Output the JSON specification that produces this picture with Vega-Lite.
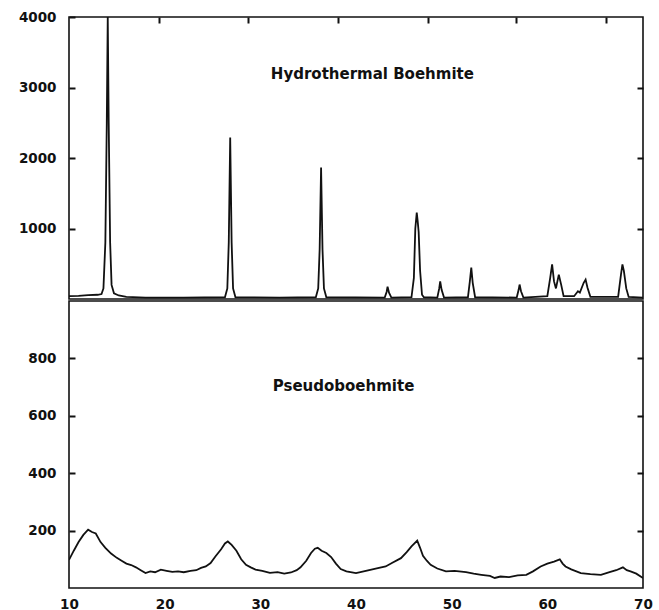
{
  "$schema": "https://vega.github.io/schema/vega-lite/v6.json",
  "background": "white",
  "padding": {"left": 8, "top": 9, "right": 17, "bottom": 0},
  "spacing": 0,
  "config": {
    "view": {"stroke": "#111", "strokeWidth": 1.6},
    "axis": {
      "domain": false,
      "grid": false,
      "title": null,
      "labelFont": "DejaVu Sans",
      "labelFontSize": 13.5,
      "labelFontWeight": "bold",
      "labelColor": "#111",
      "tickColor": "#111",
      "tickWidth": 2,
      "labelFlush": false,
      "labelOverlap": false,
      "format": "d"
    },
    "text": {"font": "DejaVu Sans", "fontSize": 15, "fontWeight": "bold", "color": "#111"}
  },
  "datasets": {
    "hydro": [
      {"two_theta": 10, "intensity": 40}, {"two_theta": 11, "intensity": 45}, {"two_theta": 12, "intensity": 55},
      {"two_theta": 13, "intensity": 60}, {"two_theta": 13.4, "intensity": 70}, {"two_theta": 13.6, "intensity": 150},
      {"two_theta": 13.8, "intensity": 800}, {"two_theta": 13.95, "intensity": 2500}, {"two_theta": 14.05, "intensity": 4000},
      {"two_theta": 14.15, "intensity": 2500}, {"two_theta": 14.3, "intensity": 800}, {"two_theta": 14.45, "intensity": 200},
      {"two_theta": 14.7, "intensity": 80}, {"two_theta": 15.2, "intensity": 50}, {"two_theta": 16, "intensity": 30},
      {"two_theta": 18, "intensity": 20}, {"two_theta": 22, "intensity": 20}, {"two_theta": 26.3, "intensity": 25},
      {"two_theta": 26.55, "intensity": 150}, {"two_theta": 26.7, "intensity": 800}, {"two_theta": 26.85, "intensity": 2290},
      {"two_theta": 27.0, "intensity": 800}, {"two_theta": 27.15, "intensity": 150}, {"two_theta": 27.4, "intensity": 25},
      {"two_theta": 32, "intensity": 20}, {"two_theta": 35.8, "intensity": 25}, {"two_theta": 36.05, "intensity": 150},
      {"two_theta": 36.2, "intensity": 700}, {"two_theta": 36.35, "intensity": 1865}, {"two_theta": 36.5, "intensity": 700},
      {"two_theta": 36.65, "intensity": 150}, {"two_theta": 36.9, "intensity": 25}, {"two_theta": 43.0, "intensity": 20},
      {"two_theta": 43.2, "intensity": 100}, {"two_theta": 43.3, "intensity": 175}, {"two_theta": 43.45, "intensity": 90},
      {"two_theta": 43.7, "intensity": 20}, {"two_theta": 45.8, "intensity": 25}, {"two_theta": 46.05, "intensity": 300},
      {"two_theta": 46.2, "intensity": 1000}, {"two_theta": 46.35, "intensity": 1225}, {"two_theta": 46.45, "intensity": 1100},
      {"two_theta": 46.55, "intensity": 950}, {"two_theta": 46.7, "intensity": 400}, {"two_theta": 46.9, "intensity": 60},
      {"two_theta": 47.1, "intensity": 25}, {"two_theta": 48.5, "intensity": 20}, {"two_theta": 48.7, "intensity": 150},
      {"two_theta": 48.8, "intensity": 250}, {"two_theta": 48.95, "intensity": 130}, {"two_theta": 49.2, "intensity": 20},
      {"two_theta": 51.7, "intensity": 25}, {"two_theta": 51.9, "intensity": 250}, {"two_theta": 52.05, "intensity": 445},
      {"two_theta": 52.2, "intensity": 230}, {"two_theta": 52.45, "intensity": 25}, {"two_theta": 56.8, "intensity": 20},
      {"two_theta": 57.0, "intensity": 130}, {"two_theta": 57.1, "intensity": 205}, {"two_theta": 57.25, "intensity": 110},
      {"two_theta": 57.5, "intensity": 20}, {"two_theta": 60.0, "intensity": 40}, {"two_theta": 60.3, "intensity": 300},
      {"two_theta": 60.5, "intensity": 490}, {"two_theta": 60.7, "intensity": 250}, {"two_theta": 60.9, "intensity": 150},
      {"two_theta": 61.2, "intensity": 345}, {"two_theta": 61.45, "intensity": 200}, {"two_theta": 61.7, "intensity": 40},
      {"two_theta": 62.8, "intensity": 40}, {"two_theta": 63.2, "intensity": 110}, {"two_theta": 63.4, "intensity": 90},
      {"two_theta": 63.8, "intensity": 230}, {"two_theta": 64.0, "intensity": 275}, {"two_theta": 64.2, "intensity": 160},
      {"two_theta": 64.5, "intensity": 30}, {"two_theta": 67.4, "intensity": 30}, {"two_theta": 67.7, "intensity": 350},
      {"two_theta": 67.85, "intensity": 490}, {"two_theta": 68.0, "intensity": 400}, {"two_theta": 68.25, "intensity": 150},
      {"two_theta": 68.5, "intensity": 30}, {"two_theta": 70, "intensity": 20}
    ],
    "pseudo": [
      {"two_theta": 10.0, "intensity": 98}, {"two_theta": 10.5, "intensity": 130}, {"two_theta": 11.0, "intensity": 160},
      {"two_theta": 11.5, "intensity": 185}, {"two_theta": 12.0, "intensity": 203}, {"two_theta": 12.4, "intensity": 195},
      {"two_theta": 12.8, "intensity": 190}, {"two_theta": 13.3, "intensity": 160}, {"two_theta": 13.8, "intensity": 140},
      {"two_theta": 14.4, "intensity": 120}, {"two_theta": 15.0, "intensity": 105}, {"two_theta": 15.5, "intensity": 95},
      {"two_theta": 16.0, "intensity": 85}, {"two_theta": 16.5, "intensity": 80}, {"two_theta": 17.0, "intensity": 72},
      {"two_theta": 17.5, "intensity": 62}, {"two_theta": 18.0, "intensity": 52}, {"two_theta": 18.5, "intensity": 58},
      {"two_theta": 19.0, "intensity": 55}, {"two_theta": 19.6, "intensity": 64}, {"two_theta": 20.2, "intensity": 60},
      {"two_theta": 20.8, "intensity": 56}, {"two_theta": 21.4, "intensity": 58}, {"two_theta": 22.0, "intensity": 55},
      {"two_theta": 22.7, "intensity": 60}, {"two_theta": 23.3, "intensity": 62}, {"two_theta": 23.8, "intensity": 70},
      {"two_theta": 24.3, "intensity": 75}, {"two_theta": 24.8, "intensity": 87}, {"two_theta": 25.3, "intensity": 110},
      {"two_theta": 25.9, "intensity": 135}, {"two_theta": 26.3, "intensity": 155}, {"two_theta": 26.6, "intensity": 162},
      {"two_theta": 27.0, "intensity": 150}, {"two_theta": 27.5, "intensity": 130}, {"two_theta": 28.0, "intensity": 100},
      {"two_theta": 28.5, "intensity": 81}, {"two_theta": 29.0, "intensity": 72}, {"two_theta": 29.5, "intensity": 64},
      {"two_theta": 30.2, "intensity": 60}, {"two_theta": 31.0, "intensity": 53}, {"two_theta": 31.8, "intensity": 55},
      {"two_theta": 32.5, "intensity": 50}, {"two_theta": 33.2, "intensity": 54}, {"two_theta": 33.8, "intensity": 62},
      {"two_theta": 34.2, "intensity": 72}, {"two_theta": 34.8, "intensity": 95}, {"two_theta": 35.3, "intensity": 122},
      {"two_theta": 35.7, "intensity": 137}, {"two_theta": 36.0, "intensity": 140}, {"two_theta": 36.4, "intensity": 130},
      {"two_theta": 36.9, "intensity": 122}, {"two_theta": 37.4, "intensity": 108}, {"two_theta": 37.9, "intensity": 85},
      {"two_theta": 38.4, "intensity": 66}, {"two_theta": 39.0, "intensity": 58}, {"two_theta": 40.0, "intensity": 52},
      {"two_theta": 40.8, "intensity": 58}, {"two_theta": 41.6, "intensity": 64}, {"two_theta": 42.4, "intensity": 70},
      {"two_theta": 43.1, "intensity": 75}, {"two_theta": 43.8, "intensity": 88}, {"two_theta": 44.7, "intensity": 104},
      {"two_theta": 45.3, "intensity": 125}, {"two_theta": 45.8, "intensity": 145}, {"two_theta": 46.4, "intensity": 165},
      {"two_theta": 46.7, "intensity": 140}, {"two_theta": 47.0, "intensity": 112}, {"two_theta": 47.4, "intensity": 95},
      {"two_theta": 47.8, "intensity": 81}, {"two_theta": 48.5, "intensity": 68}, {"two_theta": 49.4, "intensity": 58},
      {"two_theta": 50.3, "intensity": 60}, {"two_theta": 51.5, "intensity": 55}, {"two_theta": 52.3, "intensity": 50},
      {"two_theta": 53.1, "intensity": 46}, {"two_theta": 54.0, "intensity": 42}, {"two_theta": 54.5, "intensity": 35},
      {"two_theta": 55.1, "intensity": 40}, {"two_theta": 56.0, "intensity": 38}, {"two_theta": 56.9, "intensity": 44},
      {"two_theta": 57.8, "intensity": 46}, {"two_theta": 58.5, "intensity": 58}, {"two_theta": 59.3, "intensity": 75},
      {"two_theta": 60.0, "intensity": 85}, {"two_theta": 60.7, "intensity": 92}, {"two_theta": 61.3, "intensity": 100},
      {"two_theta": 61.6, "intensity": 85}, {"two_theta": 61.9, "intensity": 75}, {"two_theta": 62.5, "intensity": 65},
      {"two_theta": 63.5, "intensity": 52}, {"two_theta": 64.5, "intensity": 48}, {"two_theta": 65.6, "intensity": 46},
      {"two_theta": 66.5, "intensity": 55}, {"two_theta": 67.2, "intensity": 62}, {"two_theta": 67.9, "intensity": 72},
      {"two_theta": 68.3, "intensity": 62}, {"two_theta": 68.7, "intensity": 58}, {"two_theta": 69.3, "intensity": 50},
      {"two_theta": 70.0, "intensity": 35}
    ],
    "label_top": [{"two_theta": 31.1, "intensity": 3185, "label": "Hydrothermal Boehmite"}],
    "label_bottom": [{"two_theta": 31.3, "intensity": 703, "label": "Pseudoboehmite"}]
  },
  "vconcat": [
    {
      "width": 574,
      "height": 282,
      "layer": [
        {
          "data": {"name": "hydro"},
          "mark": {"type": "line", "color": "#111", "strokeWidth": 1.8, "clip": true},
          "encoding": {
            "x": {"field": "two_theta", "type": "quantitative",
                  "scale": {"domain": [10, 70], "nice": false, "zero": false},
                  "axis": {"orient": "top", "labels": false, "values": [19.4, 28.7, 38.1, 47.5, 56.7, 66.1], "tickSize": -6}},
            "y": {"field": "intensity", "type": "quantitative",
                  "scale": {"domain": [0, 4000], "nice": false},
                  "axis": {"orient": "left", "values": [1000, 2000, 3000, 4000], "tickSize": -6, "labelPadding": 19, "minExtent": 60}}
          }
        },
        {
          "data": {"name": "label_top"},
          "mark": {"type": "text", "align": "left", "baseline": "middle"},
          "encoding": {
            "x": {"field": "two_theta", "type": "quantitative", "axis": null},
            "y": {"field": "intensity", "type": "quantitative",
                  "axis": {"orient": "right", "labels": false, "values": [1000, 2000, 3000], "tickSize": -6}},
            "text": {"field": "label"}
          }
        }
      ],
      "resolve": {"axis": {"x": "independent", "y": "independent"}}
    },
    {
      "width": 574,
      "height": 287,
      "layer": [
        {
          "data": {"name": "pseudo"},
          "mark": {"type": "line", "color": "#111", "strokeWidth": 1.8, "clip": true},
          "encoding": {
            "x": {"field": "two_theta", "type": "quantitative",
                  "scale": {"domain": [10, 70], "nice": false, "zero": false},
                  "axis": {"orient": "bottom", "values": [10, 20, 30, 40, 50, 60, 70], "ticks": false, "labelPadding": 9}},
            "y": {"field": "intensity", "type": "quantitative",
                  "scale": {"domain": [0, 1000], "nice": false},
                  "axis": {"orient": "left", "values": [200, 400, 600, 800], "tickSize": -6, "labelPadding": 19, "minExtent": 60}}
          }
        },
        {
          "data": {"name": "label_bottom"},
          "mark": {"type": "text", "align": "left", "baseline": "middle"},
          "encoding": {
            "x": {"field": "two_theta", "type": "quantitative", "axis": null},
            "y": {"field": "intensity", "type": "quantitative",
                  "axis": {"orient": "right", "labels": false, "values": [200, 400, 600, 800], "tickSize": -6}},
            "text": {"field": "label"}
          }
        }
      ],
      "resolve": {"axis": {"x": "independent", "y": "independent"}}
    }
  ]
}
